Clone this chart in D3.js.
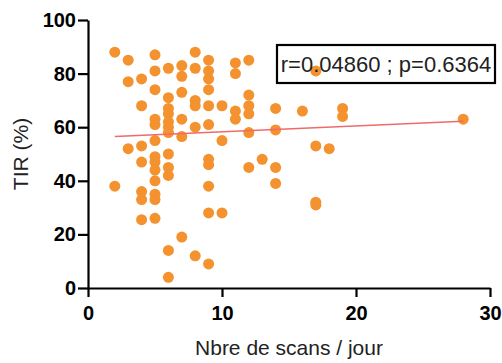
<!DOCTYPE html>
<meta charset="utf-8">
<style>
body { margin: 0; background: #fff; }
.axis path, .axis line { fill: none; stroke: #000; stroke-width: 2.2px; }
.axis text { font: bold 20px "Liberation Sans", Arial, sans-serif; fill: #000; }
.label { font: 21px "Liberation Sans", Arial, sans-serif; fill: #222; }
.dot { fill: #f3922e; }
.fit { stroke: #f06a6a; stroke-width: 1.5px; }
</style>
<body>
<script src="https://d3js.org/d3.v7.min.js"></script>
<script>

// scans per day (x) and TIR % (y), one entry per patient
var scans = [2, 2,
  3, 3, 3,
  4, 4, 4, 4, 4, 4, 4,
  5, 5, 5, 5, 5, 5, 5, 5, 5, 5, 5, 5, 5,
  6, 6, 6, 6, 6, 6, 6, 6, 6, 6, 6, 6,
  7, 7, 7, 7, 7, 7,
  8, 8, 8, 8, 8, 8,
  9, 9, 9, 9, 9, 9, 9, 9, 9, 9, 9,
  10, 10, 10,
  11, 11, 11, 11,
  12, 12, 12, 12, 12, 12,
  13,
  14, 14, 14, 14,
  16,
  17, 17, 17, 17,
  18,
  19, 19,
  28];
var tir = [88, 38,
  85, 77, 52,
  78, 68, 53, 47, 36, 33, 25.5,
  87, 81, 74, 63, 61, 55, 49, 47, 44, 40, 35, 33, 26,
  82, 71, 67, 65, 62, 60, 58, 50, 45, 42, 14, 4,
  83, 79, 73, 63, 56.5, 19,
  88, 82, 70, 68, 60, 12,
  85, 81, 78, 74, 68, 61, 48, 46, 38, 28, 9,
  68, 55, 28,
  84, 80, 66, 63,
  85, 72, 68, 65, 58, 45,
  48,
  67, 59, 45, 39,
  66,
  81, 53, 32, 31,
  52,
  67, 64,
  63];

var fitX = [2, 28];
var fitY = [56.5, 62.2];

var xTicks = [0, 10, 20, 30];
var yTicks = [0, 20, 40, 60, 80, 100];
var statsText = "r=0.04860 ; p=0.6364";

var width = 502, height = 363;
var margin = {top: 20, right: 12, bottom: 75, left: 88};

var x = d3.scaleLinear().domain([0, 30]).range([margin.left, width - margin.right]);
var y = d3.scaleLinear().domain([0, 100]).range([height - margin.bottom, margin.top]);

var svg = d3.select("body").append("svg")
    .attr("width", width)
    .attr("height", height);

svg.append("g")
    .attr("class", "axis")
    .attr("transform", "translate(0," + y(0) + ")")
    .call(d3.axisBottom(x).tickValues(xTicks).tickSize(9).tickSizeOuter(0).tickPadding(9));

svg.append("g")
    .attr("class", "axis")
    .attr("transform", "translate(" + x(0) + ",0)")
    .call(d3.axisLeft(y).tickValues(yTicks).tickSize(10).tickSizeOuter(0).tickPadding(2));

// stats box (drawn under the points, text on top)
svg.append("rect")
    .attr("x", 277).attr("y", 45)
    .attr("width", 218).attr("height", 38)
    .attr("fill", "#fff")
    .attr("stroke", "#000")
    .attr("stroke-width", 2.2);

svg.selectAll(".dot")
    .data(scans.map(function(d, i) { return [d, tir[i]]; }))
  .enter().append("circle")
    .attr("class", "dot")
    .attr("cx", function(d) { return x(d[0]); })
    .attr("cy", function(d) { return y(d[1]); })
    .attr("r", 5.5);

svg.append("line")
    .attr("class", "fit")
    .attr("x1", x(fitX[0])).attr("y1", y(fitY[0]))
    .attr("x2", x(fitX[1])).attr("y2", y(fitY[1]));

svg.append("text")
    .attr("class", "label")
    .attr("x", 386).attr("y", 72)
    .attr("text-anchor", "middle")
    .style("font-size", "22px")
    .text(statsText);

svg.append("text")
    .attr("class", "label")
    .attr("x", x(15)).attr("y", 355)
    .attr("text-anchor", "middle")
    .text("Nbre de scans / jour");

svg.append("text")
    .attr("class", "label")
    .attr("transform", "translate(28," + y(50) + ") rotate(-90)")
    .attr("text-anchor", "middle")
    .text("TIR (%)");

</script>
